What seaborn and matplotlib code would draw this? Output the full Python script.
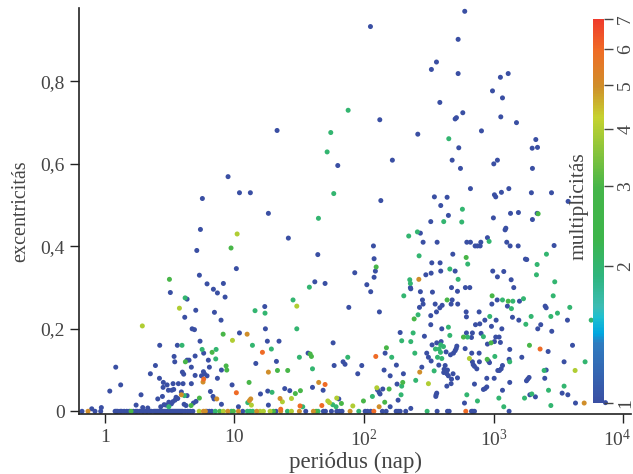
import numpy as np
import pandas as pd
import seaborn as sns
import matplotlib.pyplot as plt
from matplotlib.colors import LinearSegmentedColormap, LogNorm
from matplotlib.cm import ScalarMappable
from matplotlib.ticker import FixedLocator, FixedFormatter, NullLocator
from matplotlib.transforms import ScaledTranslation

# values: (log10 period in days, eccentricity), one list per multiplicity
single = [
    (1.329,.681),(1.797,.596),(.951,.569),(1.039,.530),(1.123,.530),(.753,.516),(1.262,.480),(.738,.441),(1.416,.420),
    (2.776,.970),(2.049,.933),(2.725,.902),(2.558,.847),(2.519,.829),(2.725,.819),(3.111,.819),(3.051,.810),(2.990,.777),
    (3.067,.760),(2.584,.749),(2.761,.724),(2.712,.712),(2.702,.709),(2.121,.707),(3.054,.714),(3.175,.700),(2.414,.672),
    (2.905,.680),(3.324,.659),(2.730,.639),(3.296,.638),(3.337,.640),(2.218,.609),(2.679,.609),(3.028,.609),(3.000,.600),
    (2.743,.589),(3.298,.589),(2.820,.540),(3.116,.540),(3.059,.531),(3.005,.525),(3.015,.520),(3.290,.530),(3.445,.530),
    (2.542,.520),(2.640,.519),(2.129,.511),(2.591,.499),(3.573,.509),(2.650,.475),(2.997,.469),(3.129,.480),(3.190,.482),
    (3.334,.480),(3.298,.465),(2.514,.460),(3.093,.444),(3.087,.440),(2.434,.432),(2.951,.421),
    (2.563,.410),(2.455,.410),(2.792,.410),(2.820,.410),(2.856,.401),(2.874,.401),(2.895,.401),(2.900,.410),(3.100,.410),
    (3.126,.401),(3.188,.401),(3.465,.402),(2.072,.401),(2.684,.381),(2.077,.370),(3.244,.369),(3.254,.368),(2.522,.360),
    (2.586,.360),(2.087,.340),(2.591,.340),(2.702,.340),(2.992,.340),(3.077,.339),(1.928,.336),(2.517,.335),(2.476,.331),
    (3.028,.326),(2.077,.325),(3.134,.319),(2.021,.307),(2.357,.300),(2.360,.297),(2.674,.300),(2.781,.300),(2.815,.300),
    (3.154,.300),(2.051,.290),(2.434,.290),(2.527,.289),(2.720,.291),(2.450,.270),(2.679,.270),(2.671,.260),(3.026,.270),
    (3.198,.267),(2.455,.260),(2.548,.260),(2.602,.257),(2.584,.251),(2.722,.260),(2.985,.260),(3.105,.255),(3.396,.255),
    (3.404,.251),(2.427,.252),(2.118,.241),(1.882,.252),(2.558,.241),(2.514,.232),(2.787,.241),(2.789,.229),(2.887,.241),
    (3.144,.228),(3.193,.221),(2.931,.221),(2.892,.212),(2.859,.210),(3.018,.221),(3.568,.221),(2.514,.210),(3.362,.210),
    (3.339,.200),(2.982,.206),(2.599,.200),(3.062,.200),(3.447,.194),(2.278,.191),(2.789,.190),(2.835,.190),(2.902,.189),
    (2.465,.182),(2.828,.179),(3.015,.180),(3.041,.180),(3.005,.169),(3.051,.167),(2.951,.163),(2.560,.166),(2.594,.169),
    (2.524,.161),(2.715,.158),(2.710,.152),(2.779,.152),(3.123,.150),(3.607,.160),(3.419,.145),(2.162,.141),(2.483,.141),
    (2.702,.147),(2.632,.144),(2.666,.137),(2.689,.141),(2.830,.141),(2.887,.141),(2.496,.131),(2.517,.122),(2.835,.120),
    (2.889,.120),(2.959,.122),(2.967,.118),(3.118,.126),(3.216,.131),(3.542,.120),(1.838,.120),(1.853,.114),(1.982,.111),
    (2.249,.112),(2.576,.112),(2.625,.111),(2.841,.113),(2.851,.109),(3.067,.111),(2.445,.107),(2.154,.100),(2.869,.103),
    (3.057,.103),(3.044,.099),(3.031,.099),(2.617,.102),(2.643,.100),(3.404,.100),(2.614,.094),(2.638,.091),(1.951,.091),
    (2.686,.091),(2.201,.086),(2.303,.091),(2.650,.086),(2.720,.081),(2.946,.080),(3.003,.080),(3.393,.080),(3.272,.082),
    (3.262,.078),(3.252,.074),(2.674,.078),(3.123,.070),(2.254,.066),(2.851,.066),(2.671,.067),(2.638,.061),(2.946,.059),
    (2.933,.055),(2.920,.053),(2.144,.054),(2.103,.052),(2.116,.046),(2.123,.042),(3.067,.051),(3.527,.044),(3.571,.040),
    (2.560,.044),(2.555,.040),(2.553,.036),(3.278,.040),(3.321,.035),(2.262,.027),(2.774,.020),(3.630,.020),(3.861,.021),
    (2.201,.011),(2.360,.007),
    (.710,.390),(1.643,.380),(1.015,.346),(.730,.330),(.789,.309),(.915,.310),(1.620,.314),(1.699,.310),(.838,.296),
    (.869,.287),(.506,.288),(.635,.272),(.928,.277),(1.234,.254),(.702,.245),(.846,.240),(.617,.228),(.897,.221),
    (.674,.200),(.692,.198),(1.239,.200),(1.039,.190),(.735,.170),(1.254,.170),(1.344,.170),(1.761,.166),(.424,.160),
    (.560,.160),(.763,.141),(1.568,.141),(.535,.133),(.697,.134),(.635,.124),(.650,.124),(.540,.120),(.799,.124),
    (1.324,.121),(1.165,.116),(.391,.111),(.668,.107),(.807,.107),(.085,.107),(1.769,.111),(.900,.100),(.599,.095),
    (.352,.091),(.609,.090),(.761,.096),(.697,.087),(.769,.091),(.746,.086),(.789,.086),(.422,.080),(.869,.080),
    (.452,.070),(.668,.067),(.481,.064),(.527,.067),(.568,.067),(.604,.067),(.982,.064),(.123,.064),(.450,.058),
    (1.602,.058),(1.388,.055),(1.427,.050),(1.684,.051),(.491,.051),(.517,.051),(.532,.053),(1.257,.049),(.039,.049),
    (.815,.048),(1.201,.042),(.280,.040),(.591,.047),(.635,.038),(.445,.036),(.835,.036),(.843,.030),(.409,.030),
    (.550,.034),(.563,.031),(.542,.027),(.524,.023),(.494,.022),(.514,.018),(.458,.016),(.473,.015),(.432,.011),
    (.612,.017),(.627,.014),(.684,.020),(.704,.024),(.900,.017),(1.031,.011),(1.262,.015),(.242,.015),(.293,.009),
    (.332,.008),(-.026,.009),(-.100,.006),(1.805,.030),
]
double = [
    (1.877,.730),(1.743,.676),(1.715,.629),(1.766,.528),(1.648,.468),(2.653,.661),(2.758,.490),(2.614,.460),(2.753,.459),
    (2.411,.435),(2.344,.425),(2.964,.412),(3.406,.381),(2.424,.377),(2.799,.357),(3.334,.356),(2.661,.345),(3.329,.331),
    (2.725,.320),(3.470,.314),(2.352,.319),(2.357,.310),(2.306,.280),(3.458,.280),(3.067,.270),(3.147,.267),(3.229,.273),
    (3.136,.249),(3.586,.252),(2.416,.234),(2.969,.230),(3.491,.238),(3.440,.230),(3.288,.230),(3.247,.211),(3.751,.221),
    (2.650,.204),(2.378,.190),(2.661,.184),(2.797,.180),(2.920,.181),(2.290,.171),(2.360,.169),(2.591,.161),(2.612,.157),
    (2.550,.151),(2.578,.151),(2.391,.141),(2.589,.143),(3.008,.133),(2.213,.131),(1.874,.131),(2.566,.131),(2.599,.128),
    (3.123,.120),(3.704,.120),(2.540,.098),(3.388,.099),(2.398,.075),(2.290,.061),(3.542,.061),(3.422,.051),(2.792,.040),
    (2.285,.040),(2.064,.036),(3.293,.042),(3.237,.032),(3.039,.032),(2.874,.025),(3.440,.014),(3.077,.011),
    (.620,.275),(1.452,.270),(1.578,.301),(1.159,.244),(1.236,.238),(1.481,.200),(.596,.160),(1.139,.160),(.751,.150),
    (.859,.150),(1.285,.151),(1.501,.131),(.856,.127),(1.602,.103),(1.290,.046),(.614,.038),(1.103,.021),(.494,.011),
    (1.527,.011),(1.758,.016),(1.784,.011),
]
triple = [
    (3.342,.479),(2.787,.373),(2.093,.350),(2.987,.280),(2.640,.270),(3.111,.267),(2.386,.224),(2.766,.180),(2.979,.166),
    (2.172,.154),(3.275,.160),(2.949,.126),(2.298,.070),(2.193,.054),(2.159,.022),(1.995,.025),(1.825,.019),
    (.974,.396),(.499,.320),(.913,.187),(.828,.143),(1.584,.139),(1.594,.133),(.622,.120),(.936,.110),(.941,.100),
    (1.332,.099),(1.411,.099),(1.113,.070),(1.509,.050),(1.470,.043),(.730,.032),(.666,.014),
]
quadruple = [
    (1.021,.430),(2.812,.128),(3.627,.099),(2.496,.067),(2.098,.057),(1.913,.013),
    (1.481,.255),(.576,.250),(.290,.207),(.985,.172),(1.131,.015),(1.370,.023),(1.440,.031),(1.720,.025),(1.733,.021),(1.789,.032),
]
quintuple = [
    (2.422,.320),(2.429,.095),(3.697,.020),(2.116,.011),
    (1.098,.187),(1.262,.095),(.758,.071),(1.650,.070),(.591,.040),(.864,.030),(1.126,.030),(1.116,.026),(1.352,.031),
]
sextuple = [
    (3.357,.151),(2.090,.133),(1.216,.143),(.763,.078),(1.699,.065),(1.015,.045),(1.506,.013),(1.674,.014),(1.357,.005),
]

# planets sitting on e = 0, log10 period only
circular_1 = [-.175,-.075,-.031,.08,.09,.10,.12,.13,.15,.17,.19,.22,.24,.25,.27,.29,.30,.32,.33,.35,.36,.38,.39,.40,.41,.42,
              .43,.44,.45,.46,.47,.48,.49,.50,.51,.52,.53,.54,.55,.56,.57,.58,.59,.60,.62,.64,.66,.68,.787,.807,.825,
              1.064,1.321,1.550,1.686,1.702,1.748,1.789,1.810,1.830,
              2.008,2.026,2.051,2.141,2.170,2.247,2.262,2.278,2.321,2.563,2.643,2.656,2.828,2.838,2.851,3.118]
circular_2 = [.853,.977,1.100,1.121,1.141,1.409,1.645,1.959,2.486]
circular_3 = [.203,.887,.992,1.301,1.630]
circular_4 = [.728,.915,1.198,1.224,1.275,1.440]
circular_5 = [-.129,.761,.776,.949,1.031,1.172,1.357,1.501,1.609,1.892]
circular_6 = [2.075,2.784]

y_ticks = [0, .2, .4, .6, .8]
y_tick_labels = ['0', '0,2', '0,4', '0,6', '0,8']
x_ticks = [1, 10, 100, 1000, 10000]
x_tick_labels = ['1', '10', '$10^2$', '$10^3$', '$10^4$']
mult_ticks = [1, 2, 3, 4, 5, 6, 7]


def frame(points, circular, mult):
    log_per = [p[0] for p in points] + circular
    ecc = [p[1] for p in points] + [0] * len(circular)
    return pd.DataFrame({'per': 10 ** np.array(log_per), 'ecc': ecc, 'mult': mult})


df = pd.concat([
    frame(single, circular_1, 1),
    frame(double, circular_2, 2),
    frame(triple, circular_3, 3),
    frame(quadruple, circular_4, 4),
    frame(quintuple, circular_5, 5),
    frame(sextuple, circular_6, 6),
])

sns.set_style("ticks")
plt.rcParams['font.family'] = ['Liberation Serif', 'DejaVu Serif']
plt.rcParams['mathtext.fontset'] = 'custom'
plt.rcParams['mathtext.rm'] = 'Liberation Serif'
plt.rcParams['mathtext.it'] = 'Liberation Serif'
plt.rcParams['mathtext.default'] = 'rm'

dark = '#444444'
cmap = LinearSegmentedColormap.from_list('mult', [
    (0, '#3a4fa3'), (.156, '#2f7cc0'), (.18, '#00a6e0'), (.224, '#1ec0d0'), (.25, '#3cbcb4'),
    (.33, '#2fb57e'), (.43, '#3db54a'), (.56, '#45b549'), (.745, '#c6d22f'), (.825, '#cf8f2a'),
    (.92, '#ef6c26'), (1, '#ef3b2c'),
])
norm = LogNorm(1, 7)

W, H = 633, 474
fig = plt.figure(figsize=(W / 100, H / 100), dpi=100)
ax = fig.add_axes([79.3 / W, (H - 414.3) / H, (631 - 79.3) / W, (414.3 - 8) / H])
sns.scatterplot(data=df, x='per', y='ecc', hue='mult', hue_norm=norm, palette=cmap,
                s=13, linewidth=0, legend=False, ax=ax, clip_on=False)
ax.set_xscale('log')
ax.set_xlim(10 ** -.196, 10 ** 4.058)
ax.set_ylim(-.0073, .978)
ax.xaxis.set_major_locator(FixedLocator(x_ticks))
ax.xaxis.set_major_formatter(FixedFormatter(x_tick_labels))
ax.xaxis.set_minor_locator(NullLocator())
ax.set_yticks(y_ticks, y_tick_labels)
ax.tick_params(length=6.5, width=1, color='#222222', labelsize=14, labelcolor=dark, pad=4)
for side in ['left', 'bottom']:
    ax.spines[side].set_linewidth(1.2)
    ax.spines[side].set_color('#222222')
sns.despine(ax=ax)

# last x label sits left of its tick so it stays inside the figure
last = ax.get_xticklabels()[-1]
last.set_transform(last.get_transform() + ScaledTranslation(-4.5 / 72, 0, fig.dpi_scale_trans))

ax.set_xlabel('periódus (nap)', fontsize=16.5, color=dark, labelpad=1)
ax.set_ylabel('excentricitás', fontsize=14.5, color=dark, labelpad=7)

cax = fig.add_axes([593 / W, (H - 403) / H, 11 / W, 384 / H])
cbar = fig.colorbar(ScalarMappable(norm=norm, cmap=cmap), cax=cax)
cbar.outline.set_visible(False)
cbar.set_ticks(mult_ticks, labels=[str(m) for m in mult_ticks])
cbar.ax.yaxis.set_minor_locator(NullLocator())
cbar.ax.tick_params(length=6.5, width=1, color=dark, labelsize=14, labelcolor=dark, pad=3, labelrotation=90)
for label in cbar.ax.get_yticklabels():
    label.set_va('center')
fig.text(579 / W, (H - 206) / H, 'multiplicitás', rotation=90, ha='center', va='center', fontsize=15.5, color=dark)

fig.savefig('out.png', dpi=100)
